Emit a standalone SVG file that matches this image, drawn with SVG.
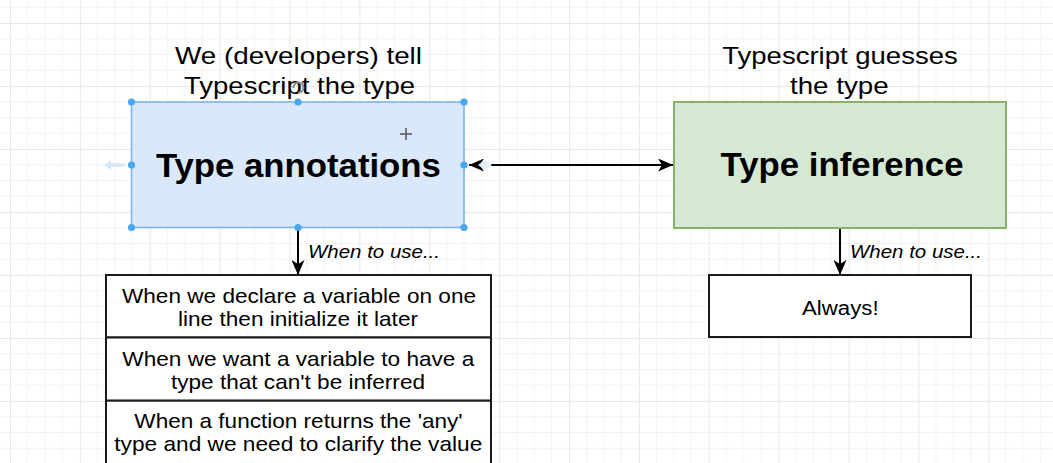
<svg xmlns="http://www.w3.org/2000/svg" width="1053" height="463" viewBox="0 0 1053 463">
  <style>
    text { font-family: "Liberation Sans", Arial, Helvetica, sans-serif; fill: #000; }
    .title { font-size: 24.5px; text-anchor: middle; }
    .big { font-size: 32.5px; font-weight: bold; text-anchor: middle; }
    .item { font-size: 21px; text-anchor: middle; }
    .edge-label { font-size: 18.6px; font-style: italic; }
    .box { fill: #ffffff; stroke: #1a1a1a; stroke-width: 2; }
    .conn { stroke: #000; stroke-width: 2; fill: none; }
    .handle { fill: #4aa6ef; stroke: none; }
  </style>
  <defs>
    <pattern id="grid" patternUnits="userSpaceOnUse" x="10" y="23" width="69.88" height="63">
      <path d="M17.47,0V63M34.94,0V63M52.41,0V63M0,15.75H69.88M0,31.5H69.88M0,47.25H69.88" stroke="#f3f3f3" stroke-width="1" fill="none"/>
      <path d="M0.5,0V63M0,0.5H69.88" stroke="#e8e8e8" stroke-width="1" fill="none"/>
    </pattern>
    <marker id="arr" viewBox="0 0 15 13" markerWidth="15" markerHeight="13" refX="15" refY="6.5" orient="auto-start-reverse" markerUnits="userSpaceOnUse">
      <path d="M0,0 L15,6.5 L0,13 L4,6.5 Z" fill="#000"/>
    </marker>
  </defs>

  <rect x="0" y="0" width="1053" height="463" fill="#ffffff"/>
  <rect x="0" y="0" width="1053" height="463" fill="url(#grid)"/>

  <g id="connectors">
    <line class="conn" x1="469" y1="165" x2="673" y2="165" marker-start="url(#arr)" marker-end="url(#arr)"/>
    <line class="conn" x1="298" y1="228" x2="298" y2="275" marker-end="url(#arr)"/>
    <text class="edge-label" x="308" y="257.5" textLength="132" lengthAdjust="spacingAndGlyphs">When to use...</text>
    <line class="conn" x1="840" y1="229" x2="840" y2="275" marker-end="url(#arr)"/>
    <text class="edge-label" x="850" y="257.5" textLength="132" lengthAdjust="spacingAndGlyphs">When to use...</text>
  </g>

  <g id="title-annotations">
    <text class="title" x="298.5" y="64" textLength="247" lengthAdjust="spacingAndGlyphs">We (developers) tell</text>
    <text class="title" x="299.5" y="93.5" textLength="231" lengthAdjust="spacingAndGlyphs">Typescript the type</text>
  </g>

  <g id="title-inference">
    <text class="title" x="840" y="64" textLength="235.5" lengthAdjust="spacingAndGlyphs">Typescript guesses</text>
    <text class="title" x="839.3" y="93.5" textLength="98.6" lengthAdjust="spacingAndGlyphs">the type</text>
  </g>

  <g id="type-annotations">
    <rect x="131.5" y="102" width="332.5" height="125.5" fill="#dae8fc" stroke="#7fb2e8" stroke-width="1.6"/>
    <text class="big" x="298.4" y="176.5" textLength="285" lengthAdjust="spacingAndGlyphs">Type annotations</text>
    <circle class="handle" cx="131.5" cy="102" r="3.6"/>
    <circle class="handle" cx="298" cy="102" r="3.6"/>
    <circle class="handle" cx="464" cy="102" r="3.6"/>
    <circle class="handle" cx="131.5" cy="165" r="3.6"/>
    <circle class="handle" cx="464" cy="165" r="3.6"/>
    <circle class="handle" cx="131.5" cy="227.5" r="3.6"/>
    <circle class="handle" cx="298" cy="227.5" r="3.6"/>
    <circle class="handle" cx="464" cy="227.5" r="3.6"/>
    <path d="M104,165 L111,160 L111,163 L125,163 L125,167 L111,167 L111,170 Z" fill="#d6e9fb"/>
    <path d="M478,165 L485,160 L492,165 L485,170 Z" fill="#e3f0fc"/>
    <path d="M293.5,88 A5,5 0 1 1 298,92.5" fill="none" stroke="#8a8a8a" stroke-width="2"/>
    <path d="M406,128 V140 M400,134 H412" stroke="#555" stroke-width="1.5"/>
  </g>

  <g id="type-inference">
    <rect x="674" y="102" width="332" height="126" fill="#d5e8d4" stroke="#82b366" stroke-width="2"/>
    <text class="big" x="842" y="176" textLength="243" lengthAdjust="spacingAndGlyphs">Type inference</text>
  </g>

  <g id="annotation-case-1">
    <rect class="box" x="106" y="275" width="385" height="62.5"/>
    <text class="item" x="299" y="303.3" textLength="354" lengthAdjust="spacingAndGlyphs">When we declare a variable on one</text>
    <text class="item" x="298" y="325.7" textLength="240" lengthAdjust="spacingAndGlyphs">line then initialize it later</text>
  </g>

  <g id="annotation-case-2">
    <rect class="box" x="106" y="337.5" width="385" height="63.2"/>
    <text class="item" x="298.3" y="366" textLength="352" lengthAdjust="spacingAndGlyphs">When we want a variable to have a</text>
    <text class="item" x="298" y="389.3" textLength="254" lengthAdjust="spacingAndGlyphs">type that can't be inferred</text>
  </g>

  <g id="annotation-case-3">
    <rect class="box" x="106" y="400.7" width="385" height="64"/>
    <text class="item" x="298.5" y="428.3" textLength="328.3" lengthAdjust="spacingAndGlyphs">When a function returns the 'any'</text>
    <text class="item" x="298.3" y="451" textLength="368" lengthAdjust="spacingAndGlyphs">type and we need to clarify the value</text>
  </g>

  <g id="inference-case">
    <rect class="box" x="709" y="275" width="262" height="62"/>
    <text class="item" x="840.3" y="315" textLength="76.5" lengthAdjust="spacingAndGlyphs" style="font-size:20px">Always!</text>
  </g>
</svg>
